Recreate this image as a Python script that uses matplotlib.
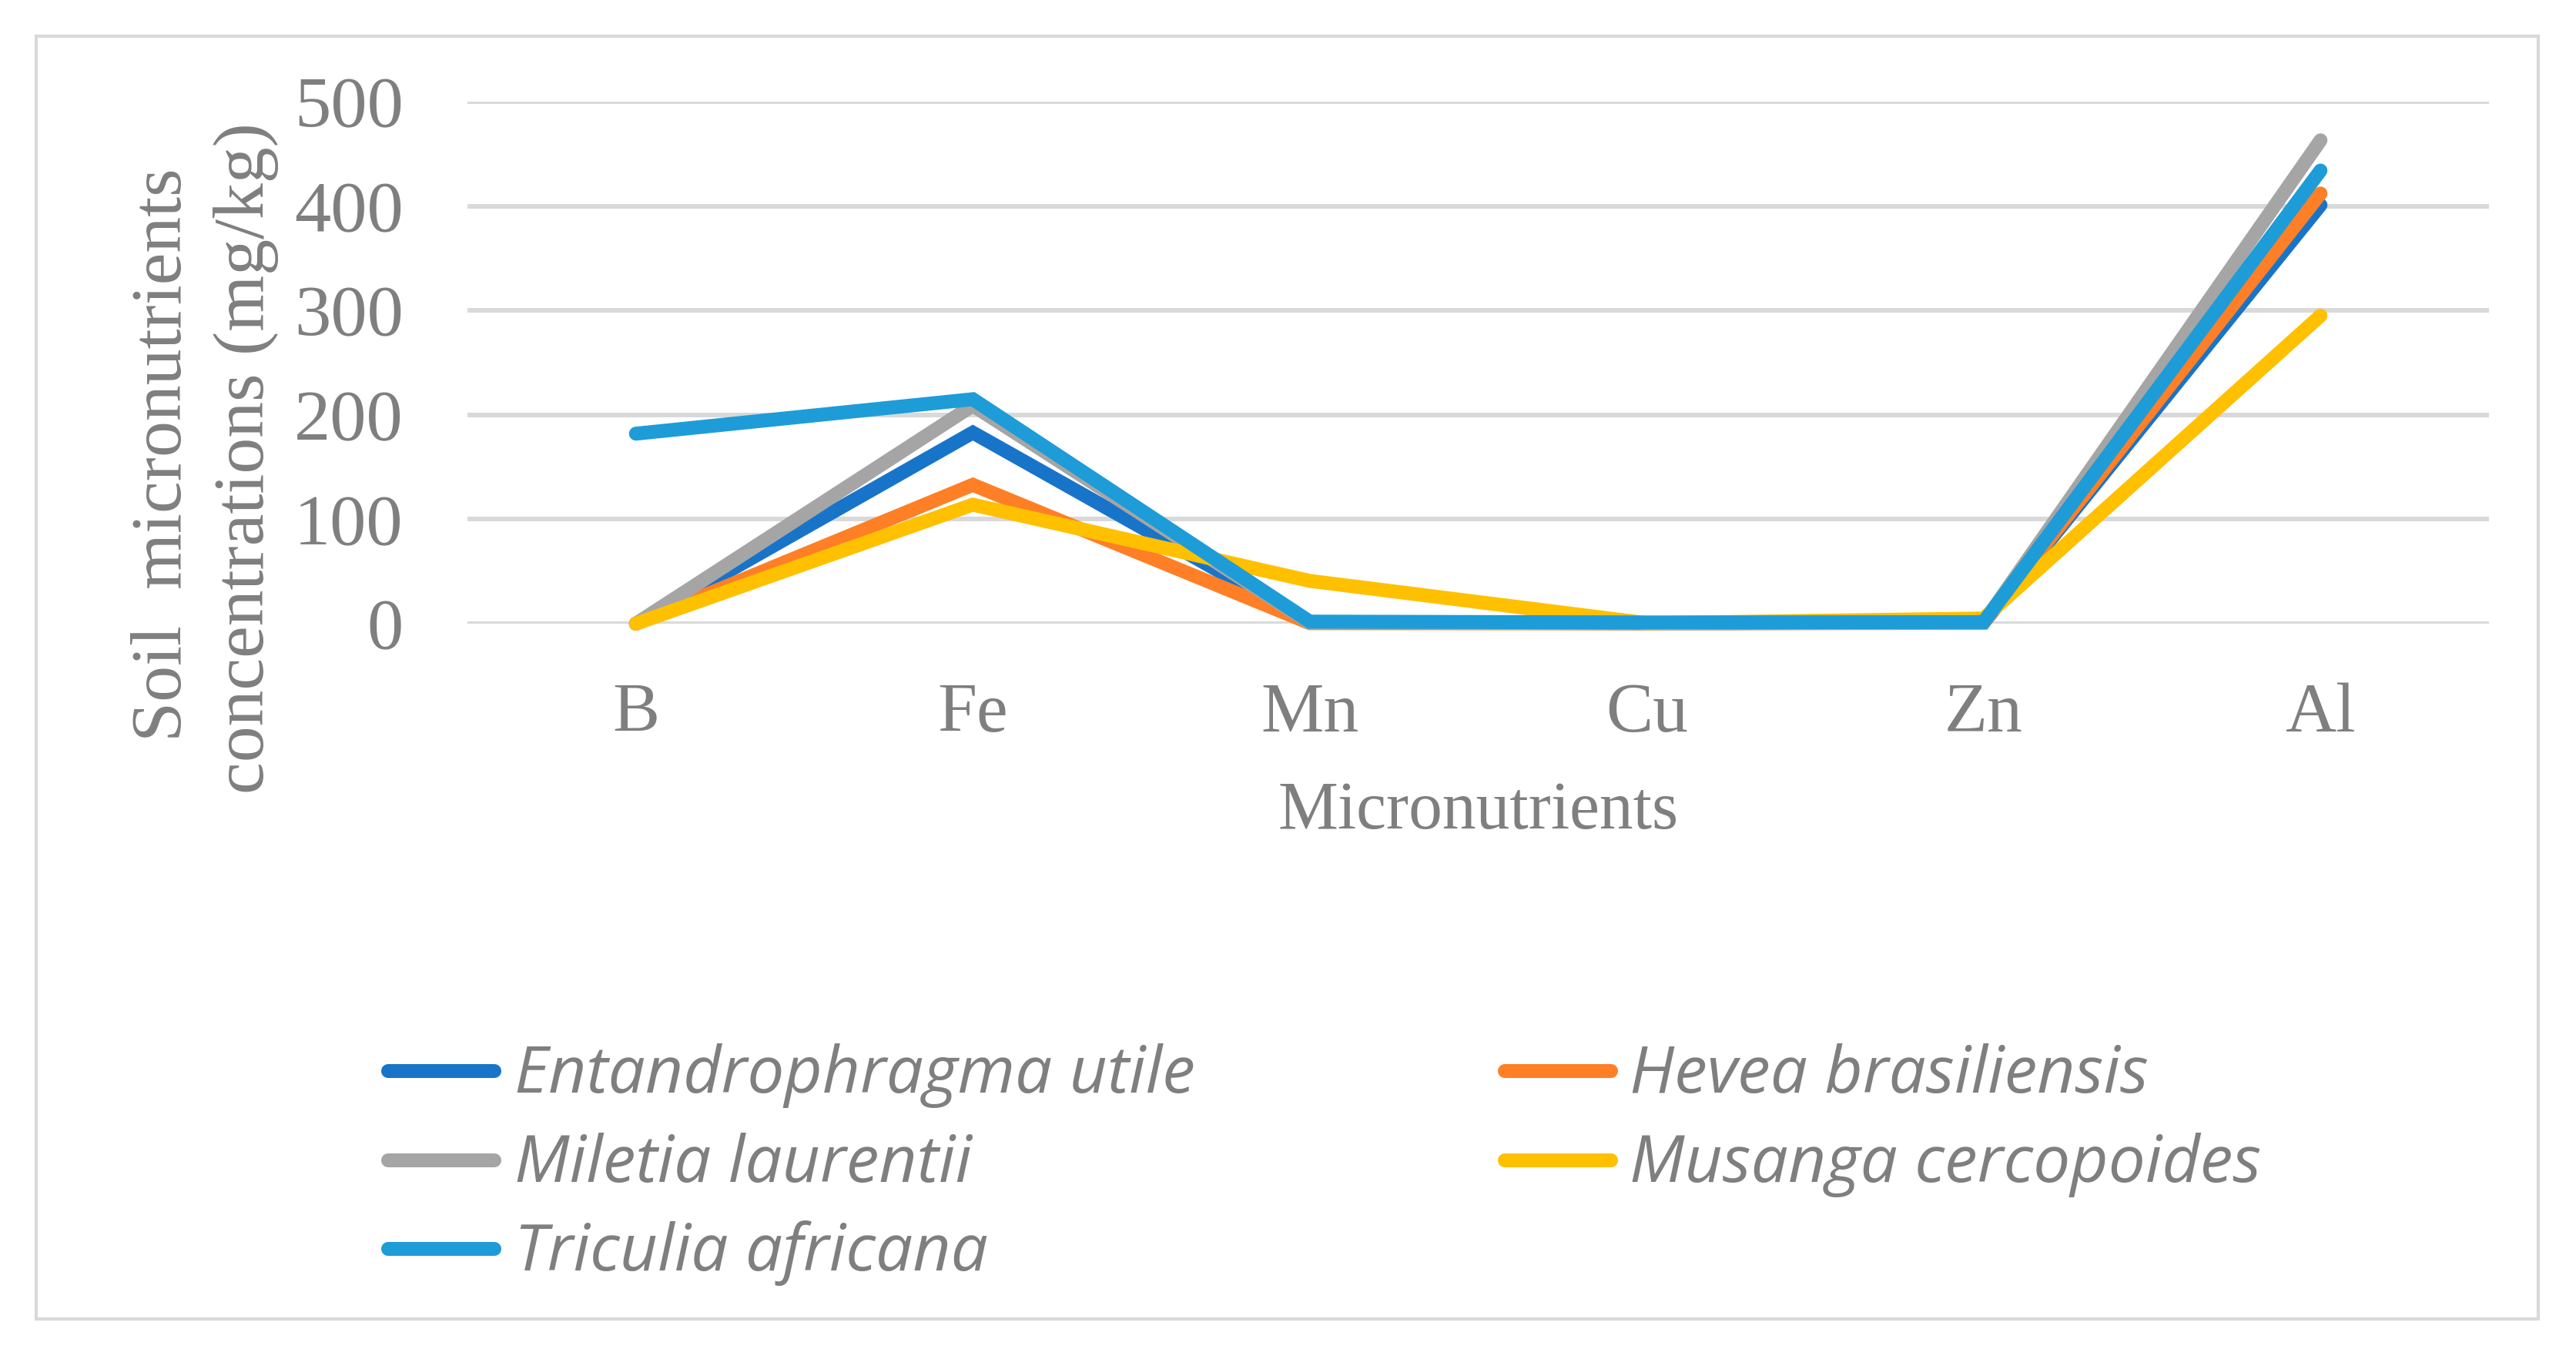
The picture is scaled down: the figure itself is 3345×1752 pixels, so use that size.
import matplotlib
matplotlib.use("Agg")
import matplotlib.pyplot as plt
from matplotlib.lines import Line2D
from matplotlib.patches import Rectangle

# ---------------- data ----------------
categories = ["B", "Fe", "Mn", "Cu", "Zn", "Al"]
series_names = ["Entandrophragma utile", "Hevea brasiliensis", "Miletia laurentii",
                "Musanga cercopoides", "Triculia africana"]
entandrophragma = [0, 183, 1.5, 0.5, 1.0, 401]
hevea = [0, 133, 0.5, 0.3, 0.8, 412]
miletia = [0, 209, 1.0, 0.5, 1.0, 463]
musanga = [0, 114, 41, 0.5, 5, 295]
triculia = [182, 215, 2, 1.2, 1.5, 434]
yticks = [0, 100, 200, 300, 400, 500]
colors = ["#1874C9", "#FE7F26", "#A5A5A5", "#FFC000", "#1D9CD8"]

W, H = 3345, 1752
DPI = 100
fig = plt.figure(figsize=(W / DPI, H / DPI), dpi=DPI)
fig.patch.set_facecolor("white")


def fx(x):
    return x / W


def fy(y):
    return 1 - y / H


TXT = "#7F7F7F"
GRID = "#D9D9D9"

# outer frame
fig.add_artist(Rectangle((fx(47), fy(1713)), fx(3296) - fx(47), fy(47) - fy(1713),
                         transform=fig.transFigure, fill=False, edgecolor=GRID,
                         linewidth=3))

left, right, top, bottom = 607, 3232, 132, 810
ax = fig.add_axes([fx(left), fy(bottom), fx(right) - fx(left), fy(top) - fy(bottom)])
ax.set_facecolor("none")

xs = list(range(len(categories)))
all_series = [entandrophragma, hevea, miletia, musanga, triculia]
lines = []
for name, vals, c in zip(series_names, all_series, colors):
    ln, = ax.plot(xs, vals, color=c, linewidth=13, solid_capstyle="round",
                  solid_joinstyle="miter", clip_on=False, zorder=3, label=name)
    lines.append(ln)

ax.set_xlim(-0.5, len(categories) - 0.5)
ax.set_ylim(0, 500)
ax.set_yticks(yticks)
ax.set_yticklabels([str(v) for v in yticks])
ax.set_xticks(xs)
ax.set_xticklabels(categories)
ax.yaxis.grid(True, color=GRID, linewidth=4.3, zorder=0)
ax.set_axisbelow(True)
for s in ax.spines.values():
    s.set_visible(False)
ax.tick_params(axis="both", length=0, colors=TXT)
ax.tick_params(axis="y", pad=60)
ax.tick_params(axis="x", pad=101)
for lab in ax.get_yticklabels():
    lab.set_fontfamily("Liberation Serif")
    lab.set_fontsize(68)
    lab.set_color(TXT)
for lab in ax.get_xticklabels():
    lab.set_fontfamily("Liberation Serif")
    lab.set_fontsize(66)
    lab.set_color(TXT)
    lab.set_verticalalignment("baseline")

# axis titles
fig.text(fx(1920), fy(1076), "Micronutrients", fontfamily="Liberation Serif",
         fontsize=63, color=TXT, ha="center", va="baseline")
fig.text(fx(235), fy(591), "Soil  micronutrients", fontfamily="Liberation Serif",
         fontsize=67.5, color=TXT, ha="center", va="baseline", rotation=90,
         rotation_mode="anchor")
fig.text(fx(342), fy(595), "concentrations (mg/kg)", fontfamily="Liberation Serif",
         fontsize=67.5, color=TXT, ha="center", va="baseline", rotation=90,
         rotation_mode="anchor")

# legend (two columns, row-major order)
legend_pos = [(504, 642, 668, 1391), (1954, 2092, 2116, 1391),
              (504, 642, 668, 1507), (1954, 2092, 2116, 1507),
              (504, 642, 668, 1622)]
texts = []
for ln, (x0, x1, tx, y) in zip(lines, legend_pos):
    fig.add_artist(Line2D([fx(x0), fx(x1)], [fy(y), fy(y)], transform=fig.transFigure,
                          color=ln.get_color(), linewidth=13, solid_capstyle="round"))
    t = fig.text(fx(tx), fy(y + 28), ln.get_label(), fontfamily="Open Sans",
                 fontstyle="italic", fontsize=56, color=TXT, ha="left", va="baseline")
    texts.append(t)

# fit legend font so the first label spans its width in the reference
renderer = fig.canvas.get_renderer()
w0 = texts[0].get_window_extent(renderer).width
size = 56 * 883.0 / w0
for t in texts:
    t.set_fontsize(size)

fig.savefig("out.png", dpi=DPI, facecolor="white")
